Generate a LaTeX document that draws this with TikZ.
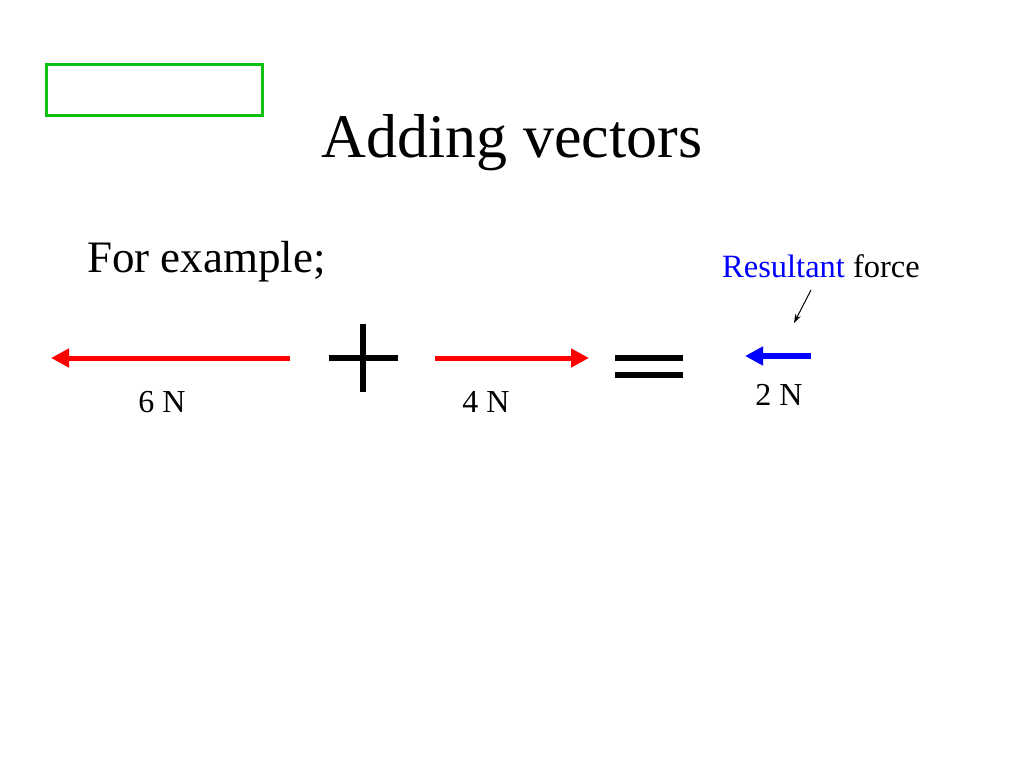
\documentclass[tikz,border=0pt]{standalone}
\usepackage{fontspec}
\setmainfont{Liberation Serif}
\usepackage{tikz}
\usetikzlibrary{arrows.meta,positioning}
\definecolor{vecred}{HTML}{FF0000}
\definecolor{vecblue}{HTML}{0000FF}
\definecolor{boxgreen}{HTML}{10C010}
\tikzset{
  vec/.style={-{Triangle[length=18pt,width=18pt]},line width=5pt},
  lbl/.style={inner sep=0pt,anchor=base,font=\fontsize{32}{38}\selectfont},
  sym/.style={line width=6pt}
}
\begin{document}
\begin{tikzpicture}[x=1pt,y=-1pt]
\useasboundingbox (0,0) rectangle (1024,768);
% frame and headings
\draw[boxgreen,line width=3pt] (46,64) rectangle (262,115);
\node[inner sep=0pt,anchor=base,font=\fontsize{62}{70}\selectfont] (title) at (512,157) {Adding vectors};
\node[inner sep=0pt,anchor=base west,font=\fontsize{45}{52}\selectfont] (ex) at (87,272) {For example;};
% vectors
\coordinate (a1) at (290,358); \coordinate (a2) at (51,358);
\coordinate (b1) at (435,358); \coordinate (b2) at (589,358);
\coordinate (c1) at (811,356); \coordinate (c2) at (745,356);
\draw[vec,vecred] (a1) -- (a2);
\draw[vec,vecred] (b1) -- (b2);
\draw[vec,vecblue,line width=6pt] (c1) -- (c2);
\node[lbl] (six) at (162,412) {6 N};
\node[lbl] (four) at (486,412) {4 N};
\node[lbl] (two) at (779,405) {2 N};
% plus and equals
\draw[sym] (329,358) -- (398,358) (363,324) -- (363,392);
\draw[sym] (615,358) -- (683,358) (615,375) -- (683,375);
% resultant
\node[lbl,anchor=base west,font=\fontsize{32.5}{38}\selectfont] (res) at (722,277) {\textcolor{vecblue}{Resultant} force};
\coordinate (p1) at (811,290); \coordinate (p2) at (794,323);
\draw[-{Stealth[length=9pt,width=6pt]},line width=1pt] (p1) -- (p2);
\end{tikzpicture}
\end{document}
